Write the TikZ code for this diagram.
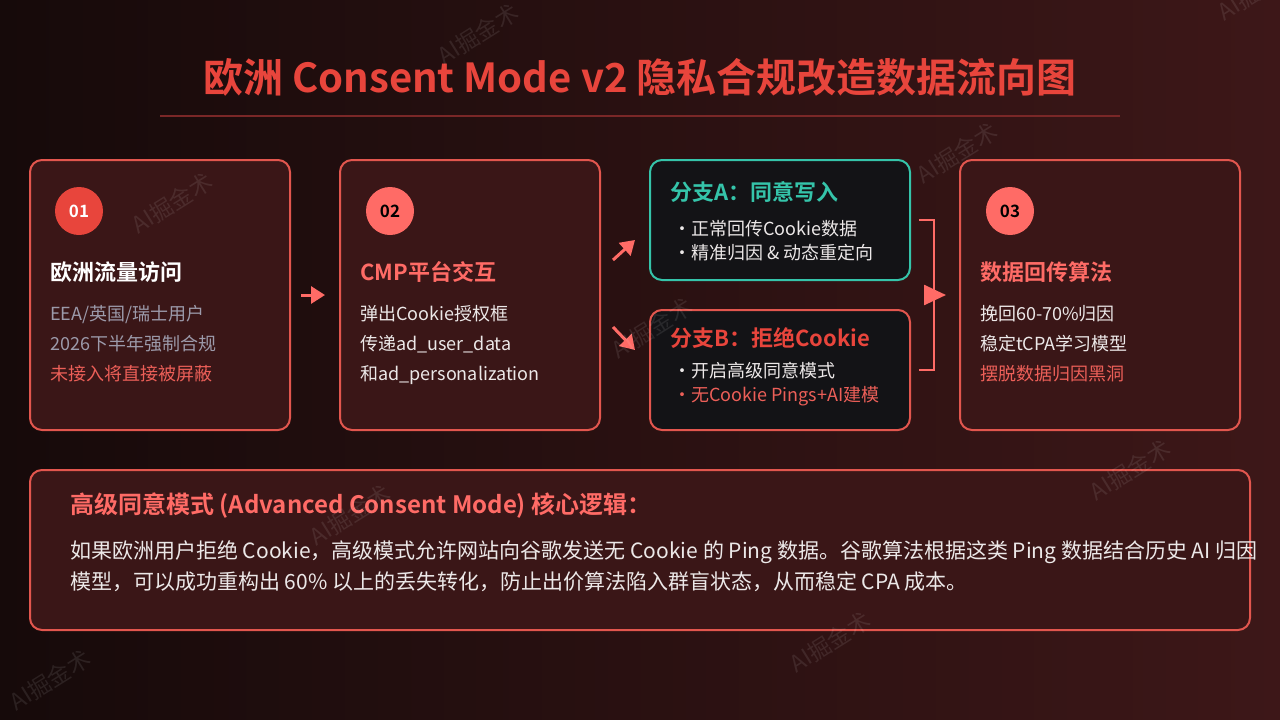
\documentclass[tikz,border=0pt]{standalone}
\usepackage{fontspec}
\setmainfont{Noto Sans CJK SC}[BoldFont={Noto Sans CJK SC Bold}]
\usetikzlibrary{positioning,calc,arrows.meta}
\definecolor{bgL}{HTML}{160A0A}
\definecolor{bgR}{HTML}{3D1718}
\definecolor{titlered}{HTML}{E8453C}
\definecolor{coral}{HTML}{FF6B66}
\definecolor{boxline}{HTML}{E2564E}
\definecolor{boxfill}{HTML}{3A1617}
\definecolor{darkfill}{HTML}{131316}
\definecolor{teal}{HTML}{35C4AA}
\definecolor{greytext}{HTML}{9C9AAA}
\definecolor{bodytext}{HTML}{ECE8E8}
\definecolor{softred}{HTML}{EC5F58}
\definecolor{rulered}{HTML}{7A2727}
\newcommand\setfs[1]{\fontsize{#1}{#1}\selectfont}

\begin{document}
\begin{tikzpicture}[x=1pt,y=-1pt,>=latex,
  card/.style={draw=boxline,fill=boxfill,line width=2pt,rounded corners=12pt,minimum width=260pt,minimum height=270pt},
  branch/.style={fill=darkfill,line width=2pt,rounded corners=12pt,minimum width=260pt,minimum height=120pt},
  badge/.style={circle,minimum size=48pt,inner sep=0pt,font=\bfseries\setfs{17}},
  head/.style={anchor=base west,inner sep=0pt,font=\bfseries\setfs{22}},
  sub/.style={anchor=base west,inner sep=0pt,font=\bfseries\setfs{22}},
  line/.style={anchor=base west,inner sep=0pt,font=\setfs{18},text=bodytext},
  item/.style={anchor=base west,inner sep=0pt,font=\setfs{18},text=bodytext},
  arr/.style={draw=coral,line width=3pt,-{Triangle[length=14pt,width=17pt]}},
  wmark/.style={rotate=32,font=\setfs{23},text=white,opacity=0.09}]
\useasboundingbox (0,0) rectangle (1280,720);
\shade[left color=bgL,right color=bgR] (0,0) rectangle (1280,720);

\node[font=\bfseries\setfs{40},text=titlered] (title) at (640,77) {欧洲 Consent Mode v2 隐私合规改造数据流向图};
\draw[rulered,line width=2pt] (160,116) -- (1120,116);

\node[card] (box1) at (160,295) {};
\node[card] (box2) at (470,295) {};
\node[branch,draw=teal] (brA) at (780,220) {};
\node[branch,draw=boxline] (brB) at (780,370) {};
\node[card,minimum width=280pt] (box3) at (1100,295) {};
\node[card,minimum width=1220pt,minimum height=160pt] (note) at (640,550) {};

\node[badge,fill=titlered,text=white] (n1) at (79,211) {01};
\node[badge,fill=coral,text=black] (n2) at (390,211) {02};
\node[badge,fill=coral,text=black] (n3) at (1010,211) {03};

\node[head,text=white] (h1) at (50,280) {欧洲流量访问};
\node[line,text=greytext] (a1) at (50,320) {EEA/英国/瑞士用户};
\node[line,text=greytext] (a2) at (50,350) {2026下半年强制合规};
\node[line,text=softred] (a3) at (50,380) {未接入将直接被屏蔽};

\node[head,text=coral] (h2) at (360,280) {CMP平台交互};
\node[line] (b1) at (360,320) {弹出Cookie授权框};
\node[line] (b2) at (360,350) {传递ad\_user\_data};
\node[line] (b3) at (360,380) {和ad\_personalization};

\node[sub,text=teal] (hA) at (670,200) {分支A：同意写入};
\node[item] (A1) at (673,235) {・正常回传Cookie数据};
\node[item] (A2) at (673,259) {・精准归因 \& 动态重定向};

\node[sub,text=titlered] (hB) at (670,346) {分支B：拒绝Cookie};
\node[item] (B1) at (673,377) {・开启高级同意模式};
\node[item,text=softred] (B2) at (673,401) {・无Cookie Pings+AI建模};

\node[head,text=coral] (h3) at (980,280) {数据回传算法};
\node[line] (c1) at (980,320) {挽回60-70\%归因};
\node[line] (c2) at (980,350) {稳定tCPA学习模型};
\node[line,text=softred] (c3) at (980,380) {摆脱数据归因黑洞};

\node[head,text=coral,font=\bfseries\setfs{24}] (hN) at (70,513) {高级同意模式 (Advanced Consent Mode) 核心逻辑：};
\node[line,font=\setfs{21}] (N1) at (70,558) {如果欧洲用户拒绝 Cookie，高级模式允许网站向谷歌发送无 Cookie 的 Ping 数据。谷歌算法根据这类 Ping 数据结合历史 AI 归因};
\node[line,font=\setfs{21}] (N2) at (70,589) {模型，可以成功重构出 60\% 以上的丢失转化，防止出价算法陷入群盲状态，从而稳定 CPA 成本。};

\draw[arr,shorten <=10pt,shorten >=14pt] (box1.east) -- (box2.west);
\draw[arr] ($(box2.east)+(12,-35)$) -- ($(brA.west)+(-14,20)$);
\draw[arr] ($(box2.east)+(12,32)$) -- ($(brB.west)+(-14,-20)$);
\draw[coral,line width=2.5pt] ($(brA.east)+(8,0)$) -- ++(15,0) |- ($(brB.east)+(8,0)$);
\coordinate (brk) at ($(brA.east)!0.5!(brB.east)+(23,0)$);
\draw[coral,line width=2.5pt,-{Triangle[length=22pt,width=20pt]},shorten >=13pt] (brk) -- (box3.west);

\foreach \x/\y [count=\i] in {172/203,478/34,1258/-10,957/153,652/328,1130/470,350/515,830/642,50/680}
  \node[wmark] (wm\i) at (\x,\y) {AI掘金术};
\end{tikzpicture}
\end{document}
